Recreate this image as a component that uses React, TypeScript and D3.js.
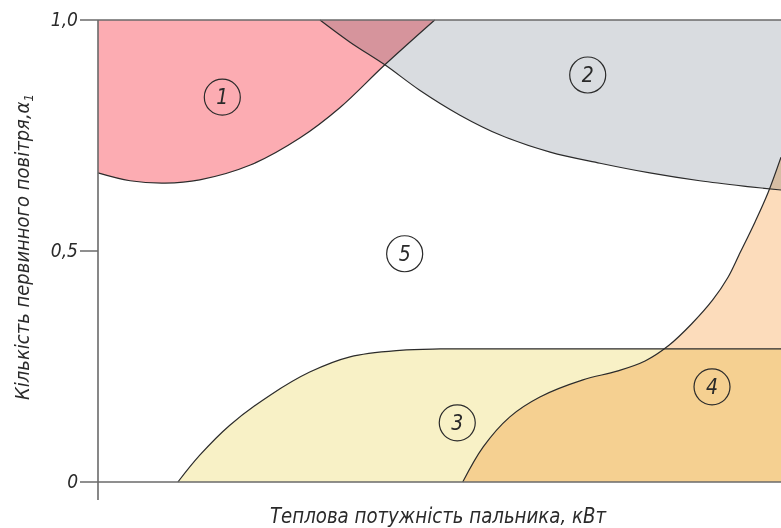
import React from "react";
import * as d3 from "d3";

// ---- data (x: arbitrary thermal power units 0..100, y: primary air ratio α1) ----
const zone1Boundary: [number, number][] = [
  [0, 0.669], [4.7, 0.652], [9.8, 0.647], [14.9, 0.654], [22.3, 0.686],
  [29.6, 0.745], [35.4, 0.81], [42.0, 0.903], [49.3, 1.0],
];
const zone2Boundary: [number, number][] = [
  [32.5, 1.0], [36.9, 0.952], [42.0, 0.903], [47.1, 0.848], [53.0, 0.794],
  [58.9, 0.751], [66.2, 0.714], [73.5, 0.69], [80.8, 0.669], [88.1, 0.652],
  [95.5, 0.639], [100, 0.632],
];
const zone3Boundary: [number, number][] = [
  [11.7, 0], [14.9, 0.058], [19.3, 0.123], [25.2, 0.188], [31.0, 0.238],
  [36.9, 0.271], [44.2, 0.285], [50.1, 0.288], [60, 0.288], [100, 0.288],
];
const zone4Boundary: [number, number][] = [
  [53.4, 0], [56.4, 0.076], [60.3, 0.141], [64.7, 0.184], [71.0, 0.221],
  [76.0, 0.24], [80.1, 0.262], [83.6, 0.296], [86.9, 0.342], [90.0, 0.394],
  [92.2, 0.442], [94.0, 0.496], [96.2, 0.563], [98.1, 0.626], [100, 0.703],
];
const zoneLabels = ["1", "2", "5", "3", "4"];
const zoneLabelX = [18.2, 71.7, 44.9, 52.6, 89.9];
const zoneLabelY = [0.833, 0.881, 0.494, 0.128, 0.206];
const yTicks = [0, 0.5, 1];
const yTickLabels = ["0", "0,5", "1,0"];
const xTitle = "Теплова потужність пальника, кВт";
const yTitle = "Кількість первинного повітря,α";

const W = 781;
const H = 528;
const FONT = "'Liberation Sans Narrow', 'DejaVu Sans Condensed', 'Noto Sans', sans-serif";

export default function App() {
  const x = d3.scaleLinear().domain([0, 100]).range([98, 781]);
  const y = d3.scaleLinear().domain([0, 1]).range([482, 20]);
  const line = d3
    .line<[number, number]>()
    .x((d) => x(d[0]))
    .y((d) => y(d[1]))
    .curve(d3.curveCatmullRom.alpha(0.5));

  const closed = (pts: [number, number][], extra: [number, number][]) => {
    const d = line(pts) as string;
    const tail = extra.map((p) => `L${x(p[0])},${y(p[1])}`).join("");
    return d + tail + "Z";
  };

  const last = (a: [number, number][]) => a[a.length - 1];
  const z1 = closed(zone1Boundary, [[last(zone1Boundary)[0], 1], [0, 1]]);
  const z2 = closed(zone2Boundary, [[100, 1]]);
  const z3 = closed(zone3Boundary, [[100, 0]]);
  const z4 = closed(zone4Boundary, [[100, 0]]);

  const blend = { mixBlendMode: "multiply" as const };
  const stroke = "#2b2b2b";

  return (
    <svg
      width={W}
      height={H}
      style={{ position: "absolute", left: 0, top: 0, isolation: "isolate", background: "#fff" }}
    >
      <rect x={0} y={0} width={W} height={H} fill="#fff" />
      <path d={z2} fill="#d9dce0" style={blend} />
      <path d={z1} fill="#fcacb2" style={blend} />
      <path d={z3} fill="#f8f1c6" style={blend} />
      <path d={z4} fill="#fcdcbb" style={blend} />

      {[zone1Boundary, zone2Boundary, zone3Boundary, zone4Boundary].map((b, i) => (
        <path key={i} d={line(b) as string} fill="none" stroke={stroke} strokeWidth={1.2} />
      ))}

      {/* axes */}
      <line x1={x(0)} x2={x(0)} y1={y(1)} y2={500} stroke="#6a6a6a" strokeWidth={1.6} />
      {yTicks.map((t, i) => (
        <g key={i}>
          <line
            x1={80}
            x2={t === 0 || t === 1 ? W : x(0)}
            y1={y(t)}
            y2={y(t)}
            stroke="#6a6a6a"
            strokeWidth={1.5}
          />
          <text
            x={78}
            y={y(t) + 6}
            textAnchor="end"
            fontFamily={FONT}
            fontStyle="italic"
            fontSize={19}
            fill="#2a2a2a"
          >
            {yTickLabels[i]}
          </text>
        </g>
      ))}

      {/* zone labels */}
      {zoneLabels.map((lab, i) => (
        <g key={i} transform={`translate(${x(zoneLabelX[i])},${y(zoneLabelY[i])})`}>
          <circle r={18} fill="none" stroke={stroke} strokeWidth={1.2} />
          <text
            y={7}
            textAnchor="middle"
            fontFamily={FONT}
            fontStyle="italic"
            fontSize={21}
            fill="#2a2a2a"
          >
            {lab}
          </text>
        </g>
      ))}

      <text
        x={438}
        y={523}
        textAnchor="middle"
        fontFamily={FONT}
        fontStyle="italic"
        fontSize={21}
        fill="#2a2a2a"
        textLength={336}
        lengthAdjust="spacingAndGlyphs"
      >
        {xTitle}
      </text>
      <text
        transform="translate(29,247) rotate(-90)"
        textAnchor="middle"
        fontFamily={FONT}
        fontStyle="italic"
        fontSize={20}
        fill="#2a2a2a"
      >
        {yTitle}
        <tspan fontSize={13} dy={4}>1</tspan>
      </text>
    </svg>
  );
}
